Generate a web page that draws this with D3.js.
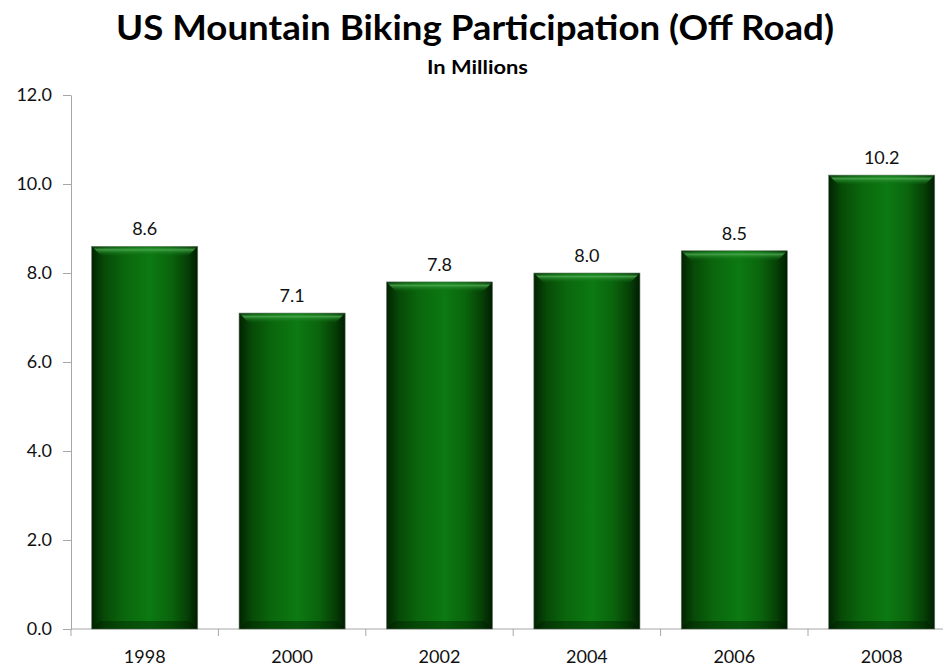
<!DOCTYPE html>
<html><head><meta charset="utf-8">
<script src="https://cdn.jsdelivr.net/npm/d3@7"></script>
<style>body{margin:0;background:#fff}svg{display:block}</style>
</head><body>
<svg id="c" width="943" height="666"></svg>
<script>
const categories = ["1998","2000","2002","2004","2006","2008"];
const values = [8.6, 7.1, 7.8, 8.0, 8.5, 10.2];
const yTicks = [0, 2, 4, 6, 8, 10, 12];
const titleText = "US Mountain Biking Participation (Off Road)";
const subtitleText = "In Millions";

const svg = d3.select("#c");
const font = "Lato, 'Open Sans', sans-serif";
const axisColor = "#a6a6a6";

const x = d3.scaleBand().domain(categories).range([71, 955.4]).paddingInner(0.28).paddingOuter(0.14);
const y = d3.scaleLinear().domain([0, 12]).range([629, 95]);

const defs = svg.append("defs");
const g1 = defs.append("linearGradient").attr("id","hg").attr("x1","0").attr("x2","1").attr("y1","0").attr("y2","0");
[[0,"#012301"],[0.12,"#074a07"],[0.3,"#0a660c"],[0.55,"#0c7a12"],[0.75,"#0a640c"],[0.9,"#064006"],[1,"#011d01"]]
  .forEach(([o,c])=>g1.append("stop").attr("offset",o).attr("stop-color",c));
const g2 = defs.append("linearGradient").attr("id","tg").attr("x1","0").attr("x2","0").attr("y1","0").attr("y2","1");
[[0,"#1f8a26",0.0],[0.35,"#4fae54",0.8],[0.55,"#2a8f30",0.6],[1,"#0a6a0f",0]]
  .forEach(([o,c,a])=>g2.append("stop").attr("offset",o).attr("stop-color",c).attr("stop-opacity",a));

// title
svg.append("text").attr("x", 475).attr("y", 40).attr("text-anchor","middle")
  .attr("font-family", font).attr("font-weight","bold").attr("font-size", 34).attr("fill","#000")
  .attr("textLength", 718).attr("lengthAdjust","spacingAndGlyphs").text(titleText);
svg.append("text").attr("x", 477.5).attr("y", 74).attr("text-anchor","middle")
  .attr("font-family", font).attr("font-weight","bold").attr("font-size", 19).attr("fill","#000")
  .attr("textLength", 101).attr("lengthAdjust","spacingAndGlyphs").text(subtitleText);

// y axis
const yAxis = svg.append("g").attr("transform","translate(71,0)")
  .call(d3.axisLeft(y).tickValues(yTicks).tickFormat(d3.format(".1f")).tickSize(8).tickSizeOuter(0));
yAxis.select(".domain").attr("stroke", axisColor);
yAxis.selectAll(".tick line").attr("stroke", axisColor);
yAxis.selectAll(".tick text").attr("font-family", font).attr("font-size", 18).attr("fill","#111").attr("x", -19);

// x axis
const xAxis = svg.append("g").attr("transform","translate(0,629)");
xAxis.append("line").attr("x1",71).attr("x2",943).attr("y1",0).attr("y2",0).attr("stroke",axisColor);
xAxis.selectAll("line.t").data(d3.range(categories.length)).join("line").attr("class","t")
  .attr("x1", i => 71 + i*x.step()).attr("x2", i => 71 + i*x.step())
  .attr("y1",0).attr("y2",7).attr("stroke",axisColor);
xAxis.selectAll("text").data(categories).join("text")
  .attr("x", d => x(d) + x.bandwidth()/2).attr("y", 34).attr("text-anchor","middle")
  .attr("font-family", font).attr("font-size", 18).attr("fill","#111").text(d=>d);

// bars
const bars = svg.append("g").selectAll("g").data(categories).join("g");
bars.append("rect")
  .attr("x", d => x(d)).attr("width", x.bandwidth())
  .attr("y", (d,i) => y(values[i])).attr("height", (d,i) => y(0) - y(values[i]))
  .attr("fill","url(#hg)").attr("stroke","#6f7f6f").attr("stroke-width",0.6);
// top bevel highlight
bars.append("path")
  .attr("d", (d,i) => {
    const x0 = x(d), x1 = x(d)+x.bandwidth(), t = y(values[i]), b = 10;
    return `M${x0},${t}L${x1},${t}L${x1-b},${t+b}L${x0+b},${t+b}Z`;
  }).attr("fill","url(#tg)");
// bottom bevel shade
bars.append("path")
  .attr("d", (d,i) => {
    const x0 = x(d), x1 = x(d)+x.bandwidth(), bt = y(0), b = 8;
    return `M${x0},${bt}L${x1},${bt}L${x1-b},${bt-b}L${x0+b},${bt-b}Z`;
  }).attr("fill","#001800").attr("opacity",0.35);
// value labels
bars.append("text")
  .attr("x", d => x(d) + x.bandwidth()/2).attr("y", (d,i) => y(values[i]) - 11)
  .attr("text-anchor","middle").attr("font-family", font).attr("font-size", 18).attr("fill","#111")
  .text((d,i) => d3.format(".1f")(values[i]));
</script>
</body></html>
